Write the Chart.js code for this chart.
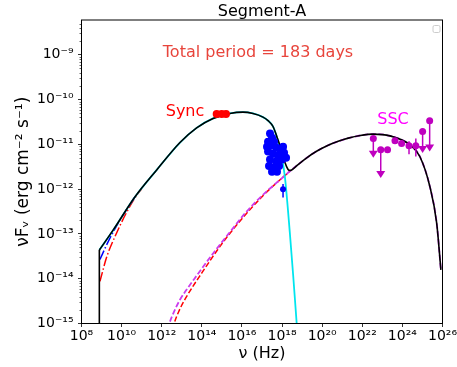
<!DOCTYPE html>
<html>
<head>
<meta charset="utf-8">
<script src="https://cdn.jsdelivr.net/npm/chart.js@4.4.1/dist/chart.umd.min.js"></script>
<style>
  body { margin: 0; background: #fff; }
  canvas { display: block; }
</style>
</head>
<body>
<canvas id="sed" width="457" height="367"></canvas>
<script>
// total model (Hz, erg cm^-2 s^-1)
const totalNu = [7.76e8, 3.85e9, 4.68e10, 5.62e11, 8.13e12, 5.5e13, 3.63e14, 2.51e15, 1.12e16, 3.55e16, 1.12e17, 2.0e17, 3.55e17, 5.62e17, 8.91e17, 1.38e18, 2.0e18, 2.45e18, 3.02e18, 6.31e18, 1.7e19, 5.0e19, 2.0e20, 6.31e20, 2.0e21, 7.94e21, 3.55e22, 2.4e23, 2.4e24, 7.41e24, 2.34e25, 5.13e25, 8.32e25];
const totalFlux = [4.37e-14, 1.23e-13, 6.76e-13, 2.69e-12, 1.1e-11, 2.34e-11, 3.8e-11, 4.9e-11, 5.25e-11, 4.9e-11, 4.07e-11, 3.39e-11, 2.51e-11, 1.45e-11, 7.94e-12, 3.98e-12, 2.75e-12, 2.63e-12, 2.69e-12, 3.55e-12, 5.01e-12, 6.92e-12, 9.55e-12, 1.17e-11, 1.38e-11, 1.58e-11, 1.7e-11, 1.55e-11, 9.77e-12, 5.37e-12, 1.15e-12, 1.74e-13, 1.58e-14];
// low frequency cut of the model
const edgeNu = [7.76e8, 7.76e8];
const edgeFlux = [1e-16, 4.37e-14];

// synchrotron component
const syncNu = [7.76e8, 3.85e9, 4.68e10, 5.62e11, 8.13e12, 5.5e13, 3.63e14, 2.51e15, 1.12e16, 3.55e16, 1.12e17, 2.0e17, 3.55e17, 5.62e17, 8.91e17, 1.38e18, 2.45e18, 3.55e18, 5.37e18, 7.08e18];
const syncFlux = [4.37e-14, 1.23e-13, 6.76e-13, 2.69e-12, 1.1e-11, 2.34e-11, 3.8e-11, 4.9e-11, 5.25e-11, 4.9e-11, 4.07e-11, 3.39e-11, 2.51e-11, 1.41e-11, 6.31e-12, 1.91e-12, 1.05e-13, 1.26e-14, 1.0e-15, 2.0e-16];

// low frequency variants
const syncBlueNu = [8.32e8, 2.0e9, 6.31e9, 2.0e10, 4.68e10];
const syncBlueFlux = [2.69e-14, 6.31e-14, 1.66e-13, 3.8e-13, 6.76e-13];
const syncRedNu = [8.32e8, 1.82e9, 5.62e9, 1.58e10, 4.68e10, 1.0e11];
const syncRedFlux = [8.71e-15, 3.09e-14, 1.05e-13, 2.75e-13, 6.46e-13, 1.02e-12];

// SSC components
const sscNu = [1.58e12, 2.4e12, 3.98e12, 8.13e12, 1.58e13, 5.5e13, 3.72e14, 2.51e15, 1.7e16, 1.15e17, 7.94e17, 2.45e18, 6.31e18, 1.7e19, 5.0e19, 2.0e20, 6.31e20, 2.0e21, 7.94e21, 3.55e22, 2.4e23, 2.4e24, 7.41e24, 2.34e25, 5.13e25, 8.32e25];
const sscFlux = [5.0e-16, 1.0e-15, 1.78e-15, 3.39e-15, 5.37e-15, 1.17e-14, 3.72e-14, 1.1e-13, 3.16e-13, 7.59e-13, 1.62e-12, 2.51e-12, 3.55e-12, 5.01e-12, 6.92e-12, 9.55e-12, 1.17e-11, 1.38e-11, 1.58e-11, 1.7e-11, 1.55e-11, 9.77e-12, 5.37e-12, 1.15e-12, 1.74e-13, 1.58e-14];
const sscRedNu = [2.82e12, 4.17e12, 7.08e12, 1.58e13, 1.0e14, 1.0e15, 1.0e16, 1.15e17, 7.94e17, 2.45e18];
const sscRedFlux = [5.0e-16, 1.0e-15, 1.86e-15, 3.72e-15, 1.35e-14, 6.03e-14, 2.19e-13, 7.24e-13, 1.62e-12, 2.51e-12];

// observations
const optNu = [5.5e14, 9.8e14, 1.6e15];
const optFlux = [4.79e-11, 4.79e-11, 4.79e-11];

const xrayNu = [2.51e17, 3.16e17, 2.0e17, 3.98e17, 2.51e17, 5.0e17, 7.9e17, 2.0e17, 3.55e17, 6.3e17, 1.26e18, 2.51e17, 5.0e17, 1.0e18, 2.24e17, 3.98e17, 7.1e17, 3.16e17, 5.6e17, 1.58e18, 1.12e18, 1.78e17];
const xrayFlux = [1.74e-11, 1.41e-11, 1.15e-11, 1.15e-11, 9.3e-12, 8.5e-12, 7.6e-12, 6.9e-12, 6.2e-12, 5.6e-12, 6.5e-12, 4.6e-12, 4.1e-12, 4.6e-12, 3.3e-12, 3.0e-12, 3.3e-12, 2.45e-12, 2.45e-12, 5.0e-12, 8.9e-12, 8.9e-12];
const xrayTailNu = [1.12e18];
const xrayTailFlux = [1.0e-12];
const xrayTailLow = [6.5e-13];
const xrayTailHigh = [1.3e-12];

const gammaNu = [3.55e22, 8.32e22, 1.82e23, 4.27e23, 9.12e23, 2.14e24, 4.68e24, 1.02e25, 2.29e25];
const gammaFlux = [1.35e-11, 7.59e-12, 7.59e-12, 1.2e-11, 1.05e-11, 9.33e-12, 9.33e-12, 1.95e-11, 3.39e-11];
const gammaLow = [5.0e-12, 1.78e-12, null, null, 9.2e-12, 6.0e-12, 5.4e-12, 6.46e-12, 6.9e-12];
const gammaHigh = [null, null, null, null, 1.15e-11, 1.17e-11, 1.35e-11, null, null];
const gammaUL = [true, true, false, false, false, false, false, true, true];

const xTicks = [1e8, 1e10, 1e12, 1e14, 1e16, 1e18, 1e20, 1e22, 1e24, 1e26];
const yTicks = [1e-15, 1e-14, 1e-13, 1e-12, 1e-11, 1e-10, 1e-9];

const COLORS = {
  total: '#000000',
  sync: '#00e5ee',
  blue: '#0000ff',
  red: '#ff0000',
  ssc: '#cc3cee',
  gamma: '#bf00bf',
  period: '#e8453c',
  sscLabel: '#ff00ff'
};

Chart.defaults.font.family = '"DejaVu Sans", sans-serif';
Chart.defaults.color = '#000';

const SUP = { '0': '⁰', '1': '¹', '2': '²', '3': '³', '4': '⁴', '5': '⁵', '6': '⁶', '7': '⁷', '8': '⁸', '9': '⁹', '-': '⁻' };
function powerLabel(v) {
  const e = Math.round(Math.log10(v));
  return '10' + String(e).split('').map(c => SUP[c]).join('');
}

const pts = (xs, ys) => xs.map((x, i) => ({ x, y: ys[i] }));

function curve(xs, ys, color, dash, width) {
  return {
    data: pts(xs, ys),
    showLine: true,
    borderColor: color,
    borderWidth: width || 1.5,
    borderDash: dash || [],
    pointRadius: 0,
    cubicInterpolationMode: 'monotone',
    capBezierPoints: false,
    fill: false
  };
}

function markers(xs, ys, color, r) {
  return {
    data: pts(xs, ys),
    showLine: false,
    pointRadius: r,
    pointBackgroundColor: color,
    pointBorderWidth: 0
  };
}

const decor = {
  id: 'decor',
  beforeDraw(chart) {
    const { ctx } = chart;
    ctx.save();
    ctx.fillStyle = '#fff';
    ctx.fillRect(0, 0, chart.width, chart.height);
    ctx.restore();
  },
  afterDatasetsDraw(chart) {
    const { ctx, scales: { x, y } } = chart;
    ctx.save();
    ctx.lineWidth = 1.5;

    // x-ray error bar
    ctx.strokeStyle = COLORS.blue;
    xrayTailNu.forEach((nu, i) => {
      const px = x.getPixelForValue(nu);
      ctx.beginPath();
      ctx.moveTo(px, y.getPixelForValue(xrayTailHigh[i]));
      ctx.lineTo(px, y.getPixelForValue(xrayTailLow[i]));
      ctx.stroke();
    });

    // gamma-ray error bars and upper limits
    ctx.strokeStyle = COLORS.gamma;
    ctx.fillStyle = COLORS.gamma;
    gammaNu.forEach((nu, i) => {
      const px = x.getPixelForValue(nu);
      const py = y.getPixelForValue(gammaFlux[i]);
      if (gammaUL[i]) {
        const end = y.getPixelForValue(gammaLow[i]);
        ctx.beginPath();
        ctx.moveTo(px, py);
        ctx.lineTo(px, end - 5);
        ctx.stroke();
        ctx.beginPath();
        ctx.moveTo(px - 4.5, end - 7);
        ctx.lineTo(px + 4.5, end - 7);
        ctx.lineTo(px, end);
        ctx.closePath();
        ctx.fill();
      } else if (gammaLow[i] !== null) {
        ctx.beginPath();
        ctx.moveTo(px, y.getPixelForValue(gammaHigh[i]));
        ctx.lineTo(px, y.getPixelForValue(gammaLow[i]));
        ctx.stroke();
      }
    });
    ctx.restore();
  },
  afterDraw(chart) {
    const { ctx, chartArea: a, scales: { x, y } } = chart;
    ctx.save();

    // minor ticks on the flux axis
    ctx.strokeStyle = '#000';
    ctx.lineWidth = 0.6;
    for (let e = -15; e <= -9; e++) {
      for (let k = 2; k <= 9; k++) {
        const v = k * Math.pow(10, e);
        if (v > y.max) continue;
        const py = Math.round(y.getPixelForValue(v)) + 0.5;
        ctx.beginPath();
        ctx.moveTo(a.left, py);
        ctx.lineTo(a.left - 2, py);
        ctx.stroke();
      }
    }

    // frame
    ctx.lineWidth = 1;
    ctx.strokeRect(a.left, a.top, a.right - a.left, a.bottom - a.top);

    // empty legend box
    ctx.strokeStyle = '#cccccc';
    ctx.lineWidth = 1;
    ctx.beginPath();
    ctx.roundRect(a.right - 9.5, a.top + 5.5, 7, 7, 1.5);
    ctx.fillStyle = '#fff';
    ctx.fill();
    ctx.stroke();

    // texts
    const cx = (a.left + a.right) / 2;
    ctx.textAlign = 'center';
    ctx.textBaseline = 'alphabetic';
    ctx.fillStyle = '#000';
    ctx.font = '16px "DejaVu Sans"';
    ctx.fillText('Segment-A', cx, 15.5);

    ctx.fillStyle = COLORS.period;
    ctx.fillText('Total period = 183 days', cx - 4, a.top + 37);

    ctx.fillStyle = COLORS.red;
    ctx.fillText('Sync', x.getPixelForValue(1.45e13), y.getPixelForValue(4.2e-11));

    ctx.fillStyle = COLORS.sscLabel;
    ctx.fillText('SSC', x.getPixelForValue(3.4e23), y.getPixelForValue(2.9e-11));
    ctx.restore();
  }
};

new Chart(document.getElementById('sed'), {
  type: 'scatter',
  data: {
    datasets: [
      markers(gammaNu, gammaFlux, COLORS.gamma, 3.5),
      markers(xrayTailNu, xrayTailFlux, COLORS.blue, 3),
      markers(xrayNu, xrayFlux, COLORS.blue, 4),
      markers(optNu, optFlux, COLORS.red, 4),
      curve(totalNu, totalFlux, COLORS.total, [], 1.6),
      Object.assign(curve(edgeNu, edgeFlux, COLORS.total, [], 1.6), { cubicInterpolationMode: 'default', tension: 0 }),
      curve(syncNu, syncFlux, COLORS.sync, [], 1.8),
      curve(syncBlueNu, syncBlueFlux, COLORS.blue, [9.6, 2.4, 1.5, 2.4]),
      curve(syncRedNu, syncRedFlux, COLORS.red, [9.6, 2.4, 1.5, 2.4]),
      curve(sscNu, sscFlux, COLORS.ssc, [5.5, 2.4], 1.8),
      curve(sscRedNu, sscRedFlux, COLORS.red, [5.5, 2.4])
    ]
  },
  options: {
    responsive: false,
    animation: false,
    layout: { padding: { top: 20, right: 14.5, left: 0, bottom: 0 } },
    plugins: { legend: { display: false }, tooltip: { enabled: false } },
    scales: {
      x: {
        type: 'logarithmic',
        min: 1e8,
        max: 1e26,
        afterBuildTicks: s => { s.ticks = xTicks.map(v => ({ value: v })); },
        afterFit: s => { s.height = 43.5; s.paddingLeft = 0; s.paddingRight = 0; },
        ticks: { autoSkip: false, maxRotation: 0, padding: 1, font: { size: 14 }, color: '#000', callback: v => powerLabel(v) },
        grid: { drawOnChartArea: false, tickLength: 3.5, color: '#000', lineWidth: 0.8 },
        border: { color: '#000', width: 1 },
        title: { display: true, text: 'ν (Hz)', font: { size: 16 }, padding: { top: 0, bottom: 4 } }
      },
      y: {
        type: 'logarithmic',
        min: 1e-15,
        max: 6e-9,
        afterBuildTicks: s => { s.ticks = yTicks.map(v => ({ value: v })); },
        afterFit: s => { s.width = 81.5; s.paddingTop = 0; s.paddingBottom = 0; },
        ticks: { autoSkip: false, padding: 4.5, font: { size: 14 }, color: '#000', callback: v => powerLabel(v) },
        grid: { drawOnChartArea: false, tickLength: 3.5, color: '#000', lineWidth: 0.8 },
        border: { color: '#000', width: 1 },
        title: { display: true, text: 'νFᵥ (erg cm⁻² s⁻¹)', font: { size: 17 }, padding: { top: 13, bottom: 0 } }
      }
    }
  },
  plugins: [decor]
});
</script>
</body>
</html>
